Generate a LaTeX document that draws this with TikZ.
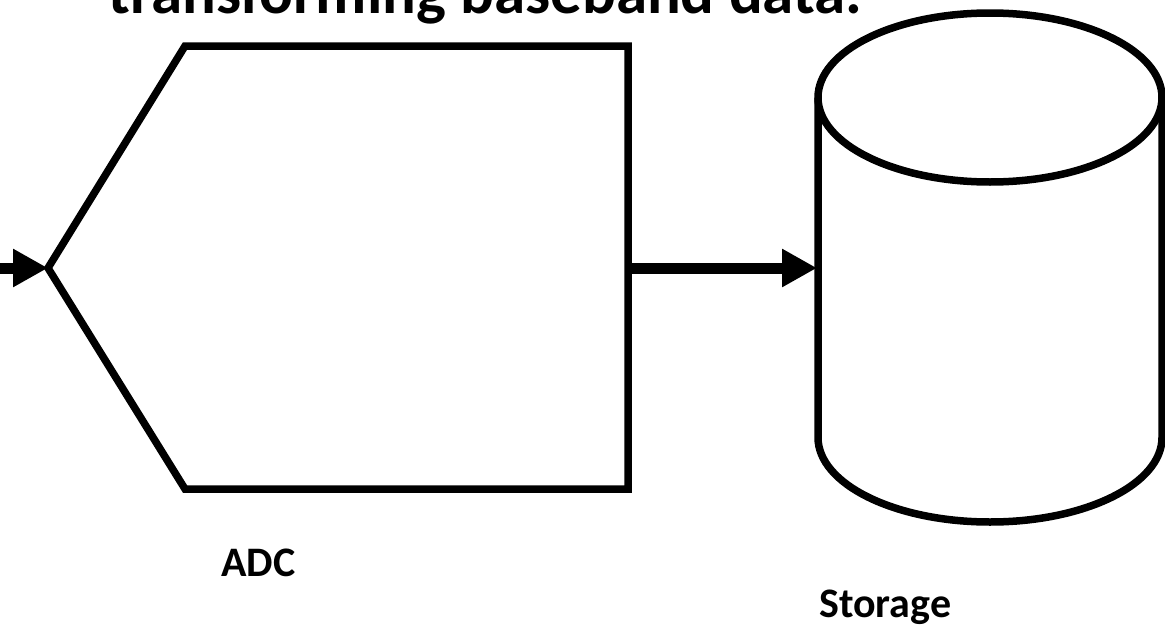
\documentclass[tikz,border=0pt]{standalone}
\usepackage{fontspec}
\setmainfont{Carlito}
\usetikzlibrary{arrows.meta}
\begin{document}
\begin{tikzpicture}[x=1pt,y=-1pt,
  shapeline/.style={line width=7.5pt, line join=miter},
  flow/.style={line width=11pt, -{Triangle[length=35pt,width=36pt]}},
  lbl/.style={font=\bfseries\fontsize{42}{48}\selectfont, inner sep=0pt},
  ttl/.style={font=\bfseries\fontsize{63}{70}\selectfont, anchor=base west, inner sep=0pt}]
\useasboundingbox (0,0) rectangle (1165,629);
\clip (0,0) rectangle (1165,629);
% title
\node[ttl] (title) at (108,13) {transforming baseband data.};
% ADC pentagon
\coordinate (adcin) at (48,268);
\coordinate (adcout) at (628,268);
\draw[shapeline] (adcin) -- (185,46) -- (628,46) -- (628,489) -- (185,489) -- cycle;
% storage cylinder
\coordinate (stin) at (817,268);
\draw[shapeline] (990,97.5) ellipse [x radius=172, y radius=84.5];
\draw[shapeline, line join=round] (818,97.5) -- (818,437.5) arc[start angle=180, end angle=0, x radius=172, y radius=84.5] -- (1162,97.5);
% connectors
\coordinate (src) at (0,268);
\draw[flow] (src) -- (adcin);
\draw[flow] (adcout) -- (stin);
% labels
\node[lbl, anchor=base west] (adclbl) at (221,576) {ADC};
\node[lbl, anchor=base west] (stlbl) at (819,617) {Storage};
\end{tikzpicture}
\end{document}
